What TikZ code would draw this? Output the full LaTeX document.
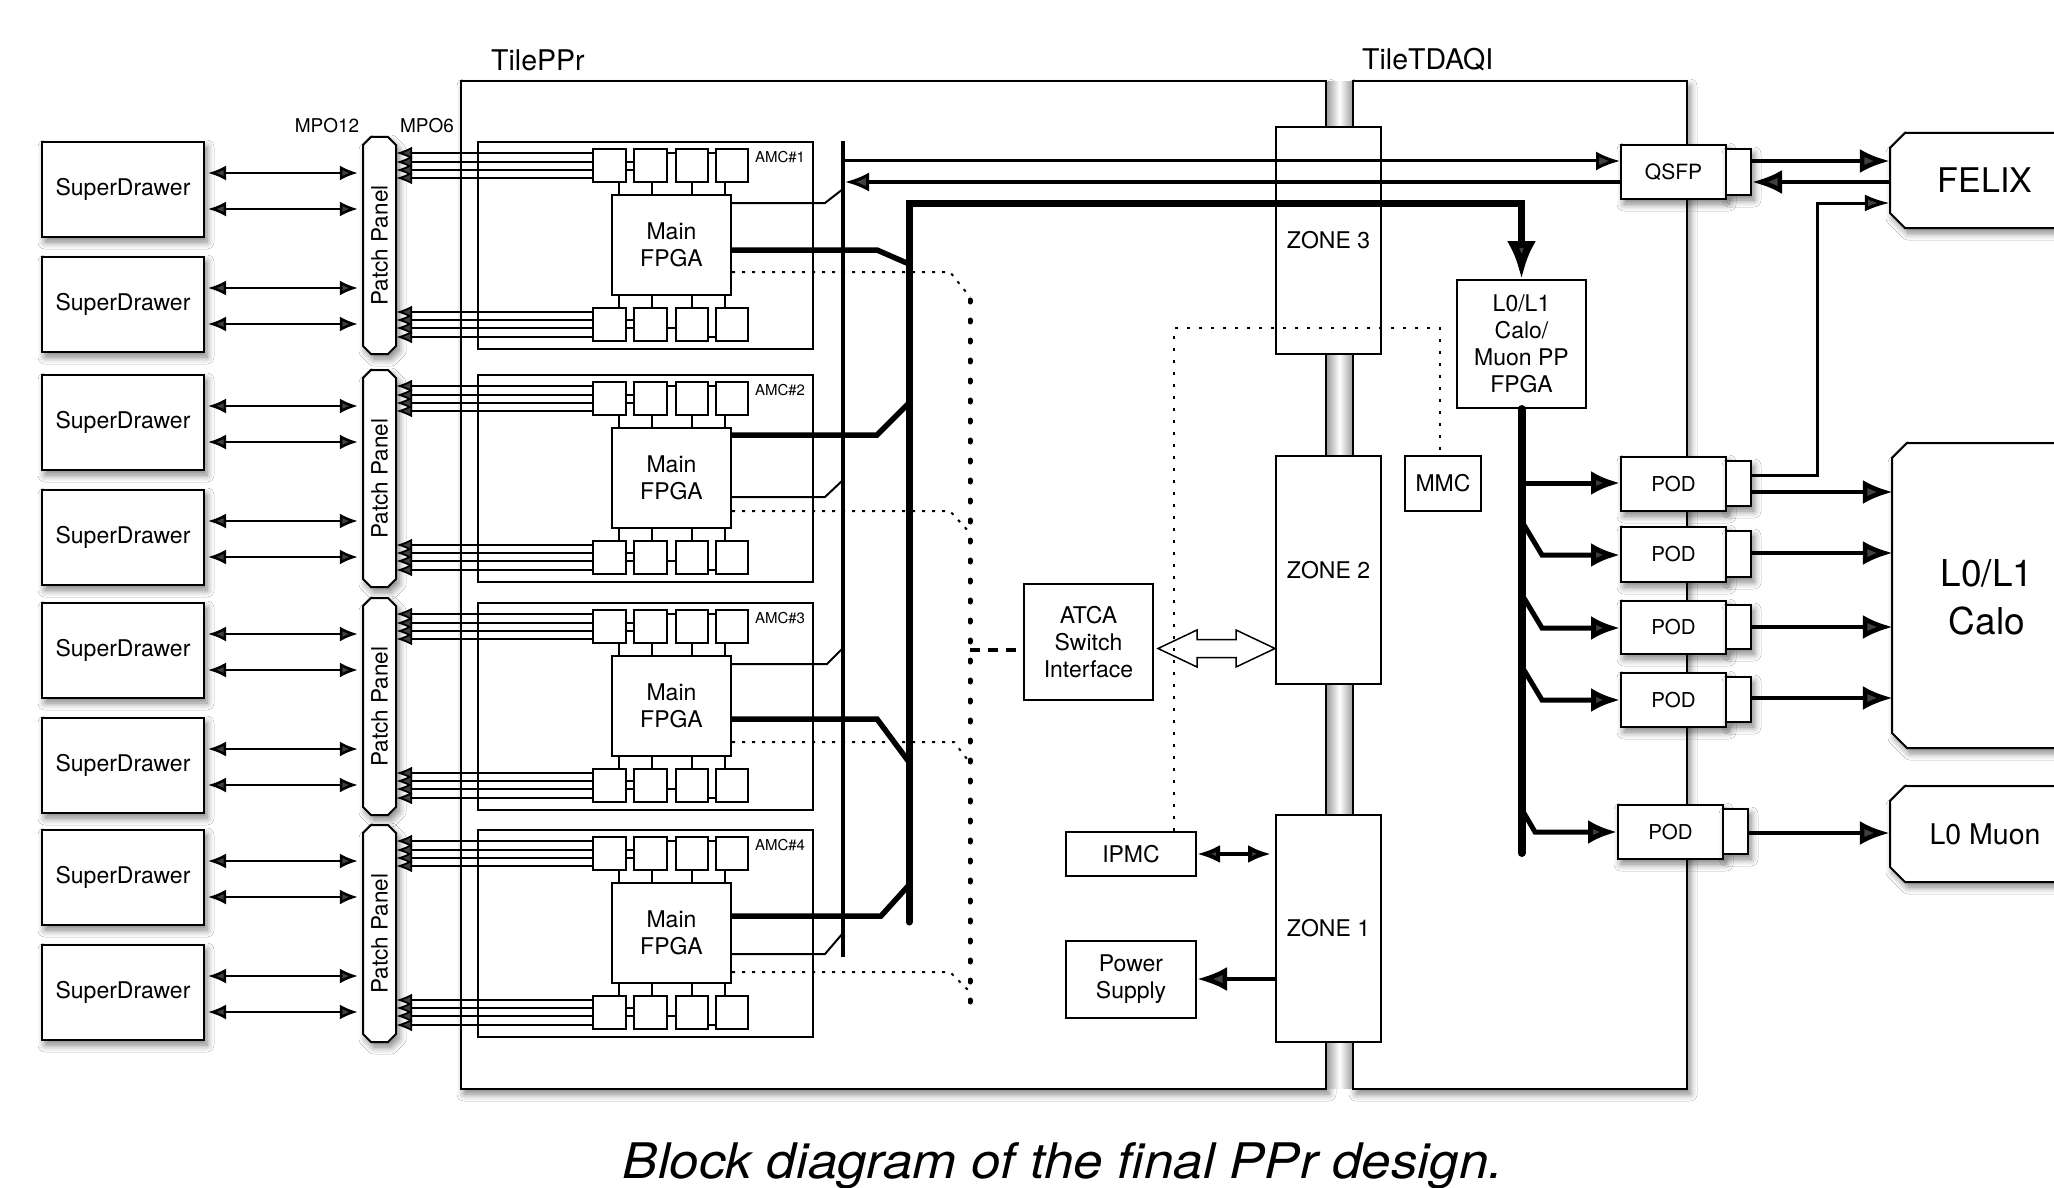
\documentclass[tikz,border=0pt]{standalone}
\usepackage{fontspec}
\setmainfont{TeX Gyre Heros}
\usepackage{graphicx}
\usetikzlibrary{arrows.meta,shadows.blur}
\newcommand\fsz[2]{\fontsize{#1}{#2}\selectfont}
\newcommand\mkbox[7][]{\node[bx,minimum width={((#5)-(#3))*1pt},minimum height={((#6)-(#4))*1pt},#1] (#2) at ({((#3)+(#5))/2},{((#4)+(#6))/2}) {#7};}
\newcommand\chamA[5]{\draw[line width=2pt,fill=white,sh] ({(#1)+(#5)},#2) -- ({(#3)-(#5)},#2) -- (#3,{(#2)+(#5)}) -- (#3,{(#4)-(#5)}) -- ({(#3)-(#5)},#4) -- ({(#1)+(#5)},#4) -- (#1,{(#4)-(#5)}) -- (#1,{(#2)+(#5)}) -- cycle;}
\newcommand\chamL[5]{\draw[line width=2pt,fill=white,sh] ({(#1)+(#5)},#2) -- (#3,#2) -- (#3,#4) -- ({(#1)+(#5)},#4) -- (#1,{(#4)-(#5)}) -- (#1,{(#2)+(#5)}) -- cycle;}
\tikzset{
 sh/.style={blur shadow={shadow xshift=3pt,shadow yshift=-5pt,shadow blur radius=7pt,shadow opacity=50,shadow blur steps=6}},
 bx/.style={draw,line width=2pt,fill=white,inner sep=0pt,align=center,font=\fsz{23}{27}},
 lbl/.style={inner sep=0pt,align=center},
 fib/.style={line width=1.8pt,-{Latex[length=16pt,width=13pt]}},
 sdar/.style={line width=2.5pt,{Latex[length=18pt,width=15pt]}-{Latex[length=18pt,width=15pt]},shorten <=3pt,shorten >=5pt},
 tln/.style={line width=2pt},
 fat/.style={line width=5.5pt},
 dotl/.style={line width=2pt,dash pattern=on 3pt off 7pt},
 dotm/.style={line width=2pt,dash pattern=on 3pt off 9pt},
 bigdot/.style={line width=5pt,line cap=round,dash pattern=on 2pt off 18pt},
 ar3/.style={line width=3pt,-{Latex[length=24pt,width=19pt]}},
 ar5/.style={line width=4.5pt,-{Latex[length=30pt,width=24pt]}},
 ar6/.style={line width=5pt,line join=miter,-{Latex[length=29pt,width=24pt]}},
}
\begin{document}
\begin{tikzpicture}[x=1pt,y=-1pt]
\useasboundingbox (0,0) rectangle (2054,1188);
\clip (0,0) rectangle (2054,1188);
\fill[white] (0,0) rectangle (2054,1188);
% containers
\mkbox[sh]{ppr}{461}{81}{1326}{1089}{}
\mkbox[sh]{tdaq}{1353}{81}{1687}{1089}{}
\node[lbl,anchor=west,font=\fsz{28.5}{32}] (pprl) at (491,60) {TilePPr};
\node[lbl,anchor=west,font=\fsz{28.5}{32}] (tdaql) at (1362,60) {TileTDAQI};
\shade[left color=gray!70,right color=gray!70,middle color=white] (1327.5,82) rectangle (1351.5,1088);
\mkbox{z3}{1276}{127}{1381}{354}{ZONE 3}
\mkbox{z2}{1276}{456}{1381}{684}{ZONE 2}
\mkbox{z1}{1276}{815}{1381}{1042}{ZONE 1}
\node[lbl,font=\fsz{19}{22}] (mpo12) at (327,126) {MPO12};
\node[lbl,font=\fsz{19}{22}] (mpo6) at (427,126) {MPO6};
% left part
\foreach \k/\oo in {1/0,2/233,3/461,4/688}{
  \mkbox[sh,font=\fsz{23}{27}]{sda\k}{42}{142+\oo}{204}{237+\oo}{SuperDrawer}
  \mkbox[sh,font=\fsz{23}{27}]{sdb\k}{42}{257+\oo}{204}{352+\oo}{SuperDrawer}
  \chamA{363}{137+\oo}{396}{354+\oo}{8}
  \node[lbl,minimum width=33pt,minimum height=217pt] (pp\k) at (379.5,245.5+\oo) {\rotatebox{90}{\fsz{22.5}{26}Patch Panel}};
  \foreach \q in {31,67}{
    \draw[sdar] (sda\k.east |- 0,142+\oo+\q) -- (pp\k.west |- 0,142+\oo+\q);
    \draw[sdar] (sdb\k.east |- 0,257+\oo+\q) -- (pp\k.west |- 0,257+\oo+\q);
  }
  \mkbox{amc\k}{478}{142+\oo}{813}{349+\oo}{}
  \node[lbl,font=\fsz{15}{18}] (amcl\k) at (780,157+\oo) {AMC\#\k};
  \mkbox{f\k}{612}{195+\oo}{731}{295+\oo}{Main\\FPGA}
  \foreach \j/\xa/\xb in {1/593/626,2/634/667,3/676/708,4/716/748}{
    \mkbox{t\k\j}{\xa}{149+\oo}{\xb}{182+\oo}{}
    \mkbox{b\k\j}{\xa}{308+\oo}{\xb}{341+\oo}{}
  }
  \foreach \r in {11,20,28,36}{\draw[fib] (t\k1.west |- 0,142+\oo+\r) -- (pp\k.east |- 0,142+\oo+\r);}
  \foreach \r in {170,178,186,195}{\draw[fib] (b\k1.west |- 0,142+\oo+\r) -- (pp\k.east |- 0,142+\oo+\r);}
  \foreach \ia/\ib/\r in {1/2/20,1/2/28,2/3/11,3/4/11}{\draw[tln] (t\k\ia.east |- 0,142+\oo+\r) -- (t\k\ib.west |- 0,142+\oo+\r);}
  \foreach \ia/\ib/\r in {1/2/178,1/2/186,2/3/186,3/4/195}{\draw[tln] (b\k\ia.east |- 0,142+\oo+\r) -- (b\k\ib.west |- 0,142+\oo+\r);}
  \foreach \j/\xx in {1/619,2/652,3/692,4/725}{
    \draw[tln] (t\k\j.south -| \xx,0) -- (f\k.north -| \xx,0);
    \draw[tln] (b\k\j.north -| \xx,0) -- (f\k.south -| \xx,0);
  }
}
% buses
\coordinate (tbt) at (843,141);
\coordinate (tbb) at (843,957);
\draw[line width=3.5pt] (tbt) -- (tbb);
\coordinate (fbt) at (909,922);
\coordinate (dvt) at (970,300);
\coordinate (dvb) at (970,1018);
\draw[bigdot] (dvt) -- (dvb);
\foreach \k/\ty/\tx/\tb/\ny/\nx/\nb/\dy/\dx/\db in {
 1/250/877/264/203/825/189/272/950/297,
 2/435/877/403/497/825/480/511/950/533,
 3/719/877/762/664/827/648/742/954/763,
 4/916/881/885/954/825/933/972/950/992}{
  \draw[fat] (f\k.east |- 0,\ty) -- (\tx,\ty) -- (909,\tb);
  \draw[tln] (f\k.east |- 0,\ny) -- (\nx,\ny) -- (843,\nb);
  \draw[dotl] (f\k.east |- 0,\dy) -- (\dx,\dy) -- (970,\db);
}
% right part
\mkbox{l0f}{1457}{280}{1586}{408}{L0/L1\\Calo/\\Muon PP\\FPGA}
\draw[line width=7pt,line cap=round,line join=miter,-{Latex[length=38pt,width=29pt]}] (fbt) -- (909,203) -- (1521.5,203) -- (l0f.north);
\mkbox{atca}{1024}{584}{1153}{700}{ATCA\\Switch\\Interface}
\mkbox{ipmc}{1066}{832}{1196}{876}{IPMC}
\mkbox{psu}{1066}{941}{1196}{1018}{Power\\Supply}
\mkbox{mmc}{1405}{456}{1481}{511}{MMC}
\mkbox[sh,font=\fsz{21}{25}]{q}{1621}{145}{1726}{199}{QSFP}
\mkbox[sh]{qt}{1726}{149}{1751}{195}{}
\foreach \k/\ya/\yb in {1/457/511,2/527/582,3/601/654,4/673/727}{
  \mkbox[sh,font=\fsz{20.5}{24}]{pod\k}{1621}{\ya}{1726}{\yb}{POD}
  \mkbox[sh]{pt\k}{1726}{\ya+4}{1751}{\yb-5}{}
}
\mkbox[sh,font=\fsz{20.5}{24}]{pod5}{1618}{805}{1723}{859}{POD}
\mkbox[sh]{pt5}{1723}{809}{1748}{854}{}
\chamL{1890}{133}{2080}{228}{15}
\node[lbl,minimum width=190pt,minimum height=95pt,font=\fsz{34}{38}] (felix) at (1985,180.5) {FELIX};
\chamL{1892}{443}{2080}{748}{15}
\node[lbl,minimum width=188pt,minimum height=305pt,font=\fsz{37}{48}] (calo) at (1987,597) {L0/L1\\Calo};
\chamL{1890}{786}{2080}{882}{15}
\node[lbl,minimum width=190pt,minimum height=96pt,font=\fsz{28.5}{32}] (muon) at (1985,834) {L0 Muon};
% connectors right
\draw[ar3] (tbt |- 0,161) -- (q.west |- 0,161);
\draw[ar3] (q.west |- 0,182) -- (845,182);
\draw[ar5] (qt.east |- 0,161) -- (felix.west |- 0,161);
\draw[ar5] (felix.west |- 0,182) -- (qt.east |- 0,182);
\draw[line width=3pt,line join=miter,-{Latex[length=25pt,width=17pt]}] (pt1.east |- 0,475) -- (1817,475) -- (1817,203) -- (felix.west |- 0,203);
\coordinate (busb) at (1521.5,853);
\draw[line width=8pt,line cap=round] (l0f.south) -- (busb);
\draw[ar6] (1521,483) -- (pod1.west |- 0,483);
\draw[ar6] (1521,520) -- (1542,555) -- (pod2.west |- 0,555);
\draw[ar6] (1521,593) -- (1542,628) -- (pod3.west |- 0,628);
\draw[ar6] (1521,665) -- (1542,700) -- (pod4.west |- 0,700);
\draw[ar6] (1521,808) -- (1535,832) -- (pod5.west |- 0,832);
\draw[ar5] (pt1.east |- 0,492) -- (calo.west |- 0,492);
\draw[ar5] (pt2.east |- 0,553) -- (calo.west |- 0,553);
\draw[ar5] (pt3.east |- 0,627) -- (calo.west |- 0,627);
\draw[ar5] (pt4.east |- 0,698) -- (calo.west |- 0,698);
\draw[ar5] (pt5.east |- 0,833) -- (muon.west |- 0,833);
% centre connectors
\draw[line width=4.5pt,dash pattern=on 10pt off 8pt] (dvt |- 0,650) -- (atca.west |- 0,650);
\draw[line width=1.5pt,line join=miter] (1158,648.5) -- (1197,630) -- (1197,639.5) -- (1236,639.5) -- (1236,630) -- (1275,648.5) -- (1236,667) -- (1236,657.5) -- (1197,657.5) -- (1197,667) -- cycle;
\draw[line width=4pt,{Latex[length=23pt,width=18pt]}-{Latex[length=23pt,width=18pt]},shorten >=4pt] (ipmc.east |- 0,854) -- (z1.west |- 0,854);
\draw[ar5] (z1.west |- 0,979) -- (psu.east |- 0,979);
\draw[dotm] (ipmc.north -| 1174,0) -- (1174,328) -- (1440,328) -- (mmc.north -| 1440,0);
% caption
\node[lbl,anchor=base,font=\fsz{49}{52}\itshape,xscale=1.08] (cap) at (1063,1178) {Block diagram of the final PPr design.};
\end{tikzpicture}
\end{document}
